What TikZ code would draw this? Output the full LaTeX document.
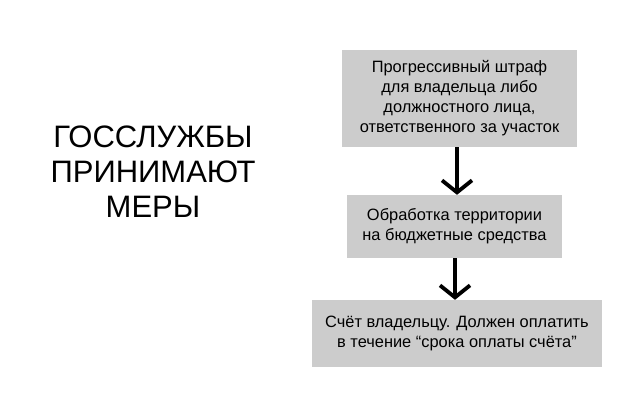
\documentclass[tikz,border=0pt]{standalone}
\usepackage{fontspec}
\setmainfont{Liberation Sans}
\usetikzlibrary{arrows.meta}
\begin{document}
\begin{tikzpicture}[x=1pt,y=-1pt,
  stepbox/.style={fill=black!20, draw=none, inner sep=0pt, align=center, font=\fontsize{16.4}{20}\selectfont},
  flow/.style={line width=3.8pt, -{Straight Barb[length=12pt,width=30pt,line width=3.8pt]}}]
\useasboundingbox (0,0) rectangle (640,418);
\fill[white] (0,0) rectangle (640,418);
\node[font=\fontsize{31}{35}\selectfont, align=center] (title) at (153,172) {ГОССЛУЖБЫ\\ПРИНИМАЮТ\\МЕРЫ};
\node[stepbox, minimum width=235pt, minimum height=97pt] (b1) at (459.5,98.5) {Прогрессивный штраф\\для владельца либо\\должностного лица,\\ответственного за участок};
\node[stepbox, minimum width=215pt, minimum height=63pt] (b2) at (454.5,226.5) {Обработка территории\\на бюджетные средства};
\node[stepbox, minimum width=290pt, minimum height=67pt] (b3) at (457,333.5) {Счёт владельцу. Должен оплатить\\в течение “срока оплаты счёта”};
\draw[flow] (b1.south -| 457,0) -- (b2.north -| 457,0);
\draw[flow] (b2.south -| 455,0) -- (b3.north -| 455,0);
\end{tikzpicture}
\end{document}
